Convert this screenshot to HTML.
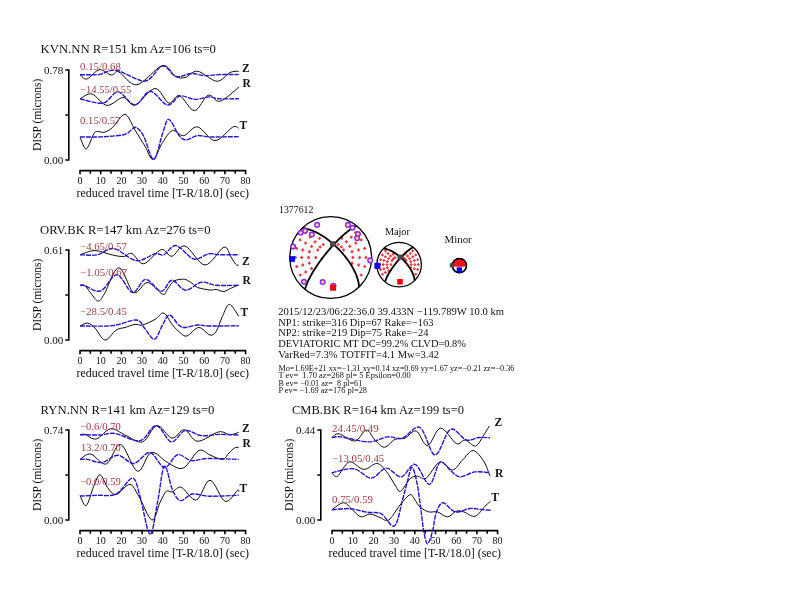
<!DOCTYPE html>
<html><head><meta charset="utf-8"><title>Moment tensor waveform fits</title>
<style>
html,body{margin:0;padding:0;background:#fff;}
body{width:800px;height:600px;overflow:hidden;}
svg{display:block;font-family:'Liberation Serif', serif;}
</style></head><body>
<svg width="800" height="600" viewBox="0 0 800 600">
<rect width="800" height="600" fill="#fff"/>
<g>
<text x="40.50" y="52.70" font-size="11.80" text-anchor="start" fill="#111" font-weight="normal" textLength="175.5" lengthAdjust="spacingAndGlyphs">KVN.NN R=151 km Az=106 ts=0</text>
<path d="M65.30 70.00H68.80V160.00H65.30M65.30 115.00H68.80" fill="none" stroke="#000" stroke-width="1.6"/>
<text x="63.30" y="74.00" font-size="11.10" text-anchor="end" fill="#111" font-weight="normal" textLength="19.4" lengthAdjust="spacingAndGlyphs">0.78</text>
<text x="63.30" y="164.00" font-size="11.10" text-anchor="end" fill="#111" font-weight="normal" textLength="19.4" lengthAdjust="spacingAndGlyphs">0.00</text>
<text transform="translate(40.60 114.80) rotate(-90)" font-size="11.5" text-anchor="middle" fill="#111" textLength="72.5" lengthAdjust="spacingAndGlyphs">DISP (microns)</text>
<path d="M79.40 170.60H246.20M80.00 170.60v3.6M90.35 170.60v3.2M100.70 170.60v3.6M111.05 170.60v3.2M121.40 170.60v3.6M131.75 170.60v3.2M142.10 170.60v3.6M152.45 170.60v3.2M162.80 170.60v3.6M173.15 170.60v3.2M183.50 170.60v3.6M193.85 170.60v3.2M204.20 170.60v3.6M214.55 170.60v3.2M224.90 170.60v3.6M235.25 170.60v3.2M245.60 170.60v3.6" fill="none" stroke="#000" stroke-width="1.6"/>
<text x="80.00" y="183.80" font-size="11.10" text-anchor="middle" fill="#111" font-weight="normal" textLength="5.0" lengthAdjust="spacingAndGlyphs">0</text>
<text x="100.70" y="183.80" font-size="11.10" text-anchor="middle" fill="#111" font-weight="normal" textLength="10.0" lengthAdjust="spacingAndGlyphs">10</text>
<text x="121.40" y="183.80" font-size="11.10" text-anchor="middle" fill="#111" font-weight="normal" textLength="10.0" lengthAdjust="spacingAndGlyphs">20</text>
<text x="142.10" y="183.80" font-size="11.10" text-anchor="middle" fill="#111" font-weight="normal" textLength="10.0" lengthAdjust="spacingAndGlyphs">30</text>
<text x="162.80" y="183.80" font-size="11.10" text-anchor="middle" fill="#111" font-weight="normal" textLength="10.0" lengthAdjust="spacingAndGlyphs">40</text>
<text x="183.50" y="183.80" font-size="11.10" text-anchor="middle" fill="#111" font-weight="normal" textLength="10.0" lengthAdjust="spacingAndGlyphs">50</text>
<text x="204.20" y="183.80" font-size="11.10" text-anchor="middle" fill="#111" font-weight="normal" textLength="10.0" lengthAdjust="spacingAndGlyphs">60</text>
<text x="224.90" y="183.80" font-size="11.10" text-anchor="middle" fill="#111" font-weight="normal" textLength="10.0" lengthAdjust="spacingAndGlyphs">70</text>
<text x="245.60" y="183.80" font-size="11.10" text-anchor="middle" fill="#111" font-weight="normal" textLength="10.0" lengthAdjust="spacingAndGlyphs">80</text>
<text x="76.50" y="196.60" font-size="11.50" text-anchor="start" fill="#111" font-weight="normal" textLength="172.5" lengthAdjust="spacingAndGlyphs">reduced travel time [T-R/18.0] (sec)</text>
<path d="M80.00 74.75C81.15 75.46 83.67 79.83 86.90 79.00C90.13 78.17 95.34 70.42 99.40 69.75C103.46 69.08 108.03 74.64 111.25 75.00C114.47 75.36 114.47 70.28 118.75 71.90C123.03 73.53 129.61 85.80 136.90 84.75C144.19 83.70 156.15 67.02 162.50 65.60C168.85 64.18 171.25 74.27 175.00 76.25C178.75 78.23 181.25 78.33 185.00 77.50C188.75 76.67 192.18 70.62 197.50 71.25C202.82 71.88 211.48 81.04 216.90 81.25C222.32 81.46 226.36 74.17 230.00 72.50C233.64 70.83 237.29 71.46 238.75 71.25" fill="none" stroke="#000" stroke-width="0.95"/>
<path d="M80.00 98.75C81.98 97.96 87.42 92.89 91.90 94.00C96.38 95.11 101.70 104.82 106.90 105.40C112.10 105.98 118.42 97.57 123.10 97.50C127.78 97.43 129.68 106.50 135.00 105.00C140.32 103.50 149.38 88.82 155.00 88.50C160.62 88.18 164.68 101.92 168.75 103.10C172.82 104.28 175.12 94.35 179.40 95.60C183.68 96.85 189.62 110.66 194.40 110.60C199.18 110.54 203.83 96.81 208.10 95.25C212.37 93.69 214.89 102.58 220.00 101.25C225.11 99.92 235.62 89.58 238.75 87.25" fill="none" stroke="#000" stroke-width="0.95"/>
<path d="M80.00 136.90C81.04 138.92 83.96 149.53 86.25 149.00C88.54 148.47 91.88 136.67 93.75 133.75C95.62 130.83 95.72 131.75 97.50 131.50C99.28 131.25 101.90 132.92 104.40 132.25C106.90 131.58 109.07 130.47 112.50 127.50C115.93 124.53 121.25 113.98 125.00 114.40C128.75 114.82 131.67 124.69 135.00 130.00C138.33 135.31 141.98 141.35 145.00 146.25C148.02 151.15 150.18 160.03 153.10 159.40C156.02 158.78 159.27 147.30 162.50 142.50C165.73 137.70 168.96 131.75 172.50 130.60C176.04 129.45 179.58 136.22 183.75 135.60C187.92 134.98 192.29 126.07 197.50 126.90C202.71 127.73 209.17 140.54 215.00 140.60C220.83 140.66 228.54 129.33 232.50 127.25C236.46 125.17 237.71 127.96 238.75 128.10" fill="none" stroke="#000" stroke-width="0.95"/>
<path d="M80.00 74.75C81.67 74.75 86.67 74.81 90.00 74.75C93.33 74.69 95.62 75.15 100.00 74.40C104.38 73.65 108.75 69.15 116.25 70.25C123.75 71.35 137.29 81.71 145.00 81.00C152.71 80.29 157.29 66.75 162.50 66.00C167.71 65.25 171.46 75.25 176.25 76.50C181.04 77.75 186.67 73.65 191.25 73.50C195.83 73.35 198.96 75.42 203.75 75.60C208.54 75.78 214.17 74.77 220.00 74.60C225.83 74.43 235.62 74.60 238.75 74.60" fill="none" stroke="#2414cc" stroke-width="1.4" stroke-dasharray="5 1"/>
<path d="M80.00 98.75C83.85 99.47 96.75 104.24 103.10 103.10C109.45 101.96 112.78 91.58 118.10 91.90C123.42 92.22 129.68 105.11 135.00 105.00C140.32 104.89 144.58 91.25 150.00 91.25C155.42 91.25 162.50 104.21 167.50 105.00C172.50 105.79 175.42 96.93 180.00 96.00C184.58 95.07 190.21 99.25 195.00 99.40C199.79 99.55 204.79 97.01 208.75 96.90C212.71 96.79 213.75 98.44 218.75 98.75C223.75 99.06 235.42 98.75 238.75 98.75" fill="none" stroke="#2414cc" stroke-width="1.4" stroke-dasharray="5 1"/>
<path d="M80.00 136.90C83.33 136.90 92.71 137.26 100.00 136.90C107.29 136.54 118.54 135.90 123.75 134.75C128.96 133.60 129.17 131.21 131.25 130.00C133.33 128.79 134.17 126.46 136.25 127.50C138.33 128.54 140.83 130.93 143.75 136.25C146.67 141.57 150.62 159.82 153.75 159.40C156.88 158.98 160.00 140.42 162.50 133.75C165.00 127.08 166.04 119.19 168.75 119.40C171.46 119.61 175.94 131.57 178.75 135.00C181.56 138.43 182.47 139.90 185.60 140.00C188.72 140.10 193.43 136.12 197.50 135.60C201.57 135.08 203.12 136.73 210.00 136.90C216.88 137.07 233.96 136.65 238.75 136.60" fill="none" stroke="#2414cc" stroke-width="1.4" stroke-dasharray="5 1"/>
<text x="80.10" y="69.60" font-size="9.30" text-anchor="start" fill="#9c3a40" font-weight="normal" textLength="40.8" lengthAdjust="spacingAndGlyphs">0.15/0.68</text>
<text x="80.10" y="92.70" font-size="9.30" text-anchor="start" fill="#9c3a40" font-weight="normal" textLength="51.2" lengthAdjust="spacingAndGlyphs">−14.55/0.55</text>
<text x="80.10" y="124.40" font-size="9.30" text-anchor="start" fill="#9c3a40" font-weight="normal" textLength="40.3" lengthAdjust="spacingAndGlyphs">0.15/0.57</text>
<text x="242.00" y="72.00" font-size="11.50" text-anchor="start" fill="#111" font-weight="bold">Z</text>
<text x="242.50" y="86.50" font-size="11.50" text-anchor="start" fill="#111" font-weight="bold">R</text>
<text x="239.50" y="128.70" font-size="11.50" text-anchor="start" fill="#111" font-weight="bold">T</text>
</g>
<g>
<text x="40.00" y="234.40" font-size="11.80" text-anchor="start" fill="#111" font-weight="normal" textLength="170.5" lengthAdjust="spacingAndGlyphs">ORV.BK R=147 km Az=276 ts=0</text>
<path d="M65.30 250.00H68.80V340.00H65.30M65.30 295.00H68.80" fill="none" stroke="#000" stroke-width="1.6"/>
<text x="63.30" y="254.00" font-size="11.10" text-anchor="end" fill="#111" font-weight="normal" textLength="19.4" lengthAdjust="spacingAndGlyphs">0.61</text>
<text x="63.30" y="344.00" font-size="11.10" text-anchor="end" fill="#111" font-weight="normal" textLength="19.4" lengthAdjust="spacingAndGlyphs">0.00</text>
<text transform="translate(40.60 294.80) rotate(-90)" font-size="11.5" text-anchor="middle" fill="#111" textLength="72.5" lengthAdjust="spacingAndGlyphs">DISP (microns)</text>
<path d="M79.40 350.60H246.20M80.00 350.60v3.6M90.35 350.60v3.2M100.70 350.60v3.6M111.05 350.60v3.2M121.40 350.60v3.6M131.75 350.60v3.2M142.10 350.60v3.6M152.45 350.60v3.2M162.80 350.60v3.6M173.15 350.60v3.2M183.50 350.60v3.6M193.85 350.60v3.2M204.20 350.60v3.6M214.55 350.60v3.2M224.90 350.60v3.6M235.25 350.60v3.2M245.60 350.60v3.6" fill="none" stroke="#000" stroke-width="1.6"/>
<text x="80.00" y="363.80" font-size="11.10" text-anchor="middle" fill="#111" font-weight="normal" textLength="5.0" lengthAdjust="spacingAndGlyphs">0</text>
<text x="100.70" y="363.80" font-size="11.10" text-anchor="middle" fill="#111" font-weight="normal" textLength="10.0" lengthAdjust="spacingAndGlyphs">10</text>
<text x="121.40" y="363.80" font-size="11.10" text-anchor="middle" fill="#111" font-weight="normal" textLength="10.0" lengthAdjust="spacingAndGlyphs">20</text>
<text x="142.10" y="363.80" font-size="11.10" text-anchor="middle" fill="#111" font-weight="normal" textLength="10.0" lengthAdjust="spacingAndGlyphs">30</text>
<text x="162.80" y="363.80" font-size="11.10" text-anchor="middle" fill="#111" font-weight="normal" textLength="10.0" lengthAdjust="spacingAndGlyphs">40</text>
<text x="183.50" y="363.80" font-size="11.10" text-anchor="middle" fill="#111" font-weight="normal" textLength="10.0" lengthAdjust="spacingAndGlyphs">50</text>
<text x="204.20" y="363.80" font-size="11.10" text-anchor="middle" fill="#111" font-weight="normal" textLength="10.0" lengthAdjust="spacingAndGlyphs">60</text>
<text x="224.90" y="363.80" font-size="11.10" text-anchor="middle" fill="#111" font-weight="normal" textLength="10.0" lengthAdjust="spacingAndGlyphs">70</text>
<text x="245.60" y="363.80" font-size="11.10" text-anchor="middle" fill="#111" font-weight="normal" textLength="10.0" lengthAdjust="spacingAndGlyphs">80</text>
<text x="76.50" y="376.60" font-size="11.50" text-anchor="start" fill="#111" font-weight="normal" textLength="172.5" lengthAdjust="spacingAndGlyphs">reduced travel time [T-R/18.0] (sec)</text>
<path d="M80.00 254.75C82.50 254.06 89.58 250.56 95.00 250.60C100.42 250.64 107.71 254.02 112.50 255.00C117.29 255.98 120.52 256.75 123.75 256.50C126.98 256.25 128.57 252.29 131.90 253.50C135.23 254.71 138.86 264.40 143.75 263.75C148.64 263.10 156.56 250.85 161.25 249.60C165.94 248.35 167.94 256.85 171.90 256.25C175.86 255.65 179.48 244.54 185.00 246.00C190.52 247.46 198.54 264.79 205.00 265.00C211.46 265.21 219.42 248.58 223.75 247.25C228.08 245.92 229.04 254.21 231.00 257.00C232.96 259.79 234.21 262.60 235.50 264.00C236.79 265.40 238.21 265.17 238.75 265.40" fill="none" stroke="#000" stroke-width="0.95"/>
<path d="M80.00 285.60C80.83 285.63 83.12 284.44 85.00 285.80C86.88 287.16 89.07 291.22 91.25 293.75C93.43 296.28 95.91 301.00 98.10 301.00C100.29 301.00 100.96 299.29 104.40 293.75C107.84 288.21 113.86 267.96 118.75 267.75C123.64 267.54 128.96 290.04 133.75 292.50C138.54 294.96 142.71 282.22 147.50 282.50C152.29 282.78 159.25 292.95 162.50 294.20C165.75 295.45 165.42 291.92 167.00 290.00C168.58 288.08 170.50 284.33 172.00 282.70C173.50 281.07 174.50 280.77 176.00 280.20C177.50 279.63 179.33 279.38 181.00 279.30C182.67 279.22 184.17 279.05 186.00 279.70C187.83 280.35 190.08 281.90 192.00 283.20C193.92 284.50 194.50 286.37 197.50 287.50C200.50 288.63 206.88 289.68 210.00 290.00C213.12 290.32 213.96 289.15 216.25 289.40C218.54 289.65 221.25 291.72 223.75 291.50C226.25 291.28 228.75 289.18 231.25 288.10C233.75 287.02 237.50 285.52 238.75 285.00" fill="none" stroke="#000" stroke-width="0.95"/>
<path d="M80.00 326.00C81.25 325.52 85.00 322.75 87.50 323.10C90.00 323.45 92.08 325.28 95.00 328.10C97.92 330.92 101.46 339.68 105.00 340.00C108.54 340.32 112.92 332.08 116.25 330.00C119.58 327.92 121.88 328.43 125.00 327.50C128.12 326.57 132.08 324.82 135.00 324.40C137.92 323.98 139.17 325.83 142.50 325.00C145.83 324.17 151.46 321.38 155.00 319.40C158.54 317.42 160.83 312.17 163.75 313.10C166.67 314.03 169.79 321.77 172.50 325.00C175.21 328.23 177.60 330.67 180.00 332.50C182.40 334.33 183.78 336.83 186.90 336.00C190.03 335.17 194.90 327.67 198.75 327.50C202.60 327.33 207.08 334.38 210.00 335.00C212.92 335.62 214.17 334.38 216.25 331.25C218.33 328.12 220.31 320.73 222.50 316.25C224.69 311.77 226.69 304.40 229.40 304.40C232.11 304.40 237.19 314.27 238.75 316.25" fill="none" stroke="#000" stroke-width="0.95"/>
<path d="M80.00 254.75C82.92 254.75 91.88 255.79 97.50 254.75C103.12 253.71 107.29 247.53 113.75 248.50C120.21 249.47 129.38 259.73 136.25 260.60C143.12 261.48 150.42 254.72 155.00 253.75C159.58 252.78 160.21 256.16 163.75 254.80C167.29 253.44 171.25 244.90 176.25 245.60C181.25 246.30 188.33 257.64 193.75 259.00C199.17 260.36 204.38 254.46 208.75 253.75C213.12 253.04 215.00 254.58 220.00 254.75C225.00 254.92 235.62 254.75 238.75 254.75" fill="none" stroke="#2414cc" stroke-width="1.4" stroke-dasharray="5 1"/>
<path d="M80.00 285.60C80.62 285.55 80.32 284.40 83.75 285.30C87.18 286.20 95.07 292.76 100.60 291.00C106.12 289.24 111.58 274.50 116.90 274.75C122.22 275.00 127.72 291.73 132.50 292.50C137.28 293.27 140.81 279.61 145.60 279.40C150.39 279.19 156.87 291.11 161.25 291.25C165.63 291.39 167.84 280.42 171.90 280.25C175.96 280.08 180.71 289.92 185.60 290.25C190.49 290.58 196.14 283.08 201.25 282.25C206.36 281.42 210.00 284.75 216.25 285.25C222.50 285.75 235.00 285.25 238.75 285.25" fill="none" stroke="#2414cc" stroke-width="1.4" stroke-dasharray="5 1"/>
<path d="M80.00 326.00C85.42 325.93 103.12 326.60 112.50 325.60C121.88 324.60 130.83 319.48 136.25 320.00C141.67 320.52 141.97 325.52 145.00 328.75C148.03 331.98 151.48 340.02 154.40 339.40C157.32 338.77 160.00 329.07 162.50 325.00C165.00 320.93 166.69 315.00 169.40 315.00C172.11 315.00 176.15 322.92 178.75 325.00C181.35 327.08 181.88 327.50 185.00 327.50C188.12 327.50 193.33 325.25 197.50 325.00C201.67 324.75 203.12 325.88 210.00 326.00C216.88 326.12 233.96 325.79 238.75 325.75" fill="none" stroke="#2414cc" stroke-width="1.4" stroke-dasharray="5 1"/>
<text x="80.10" y="249.60" font-size="9.30" text-anchor="start" fill="#9c3a40" font-weight="normal" textLength="46.7" lengthAdjust="spacingAndGlyphs">−4.65/0.57</text>
<text x="80.10" y="275.90" font-size="9.30" text-anchor="start" fill="#9c3a40" font-weight="normal" textLength="47.0" lengthAdjust="spacingAndGlyphs">−1.05/0.67</text>
<text x="80.10" y="314.65" font-size="9.30" text-anchor="start" fill="#9c3a40" font-weight="normal" textLength="46.8" lengthAdjust="spacingAndGlyphs">−28.5/0.45</text>
<text x="242.00" y="264.70" font-size="11.50" text-anchor="start" fill="#111" font-weight="bold">Z</text>
<text x="242.50" y="284.40" font-size="11.50" text-anchor="start" fill="#111" font-weight="bold">R</text>
<text x="240.60" y="316.20" font-size="11.50" text-anchor="start" fill="#111" font-weight="bold">T</text>
</g>
<g>
<text x="40.50" y="413.70" font-size="11.80" text-anchor="start" fill="#111" font-weight="normal" textLength="174.0" lengthAdjust="spacingAndGlyphs">RYN.NN R=141 km Az=129 ts=0</text>
<path d="M65.30 430.00H68.80V520.00H65.30M65.30 475.00H68.80" fill="none" stroke="#000" stroke-width="1.6"/>
<text x="63.30" y="434.00" font-size="11.10" text-anchor="end" fill="#111" font-weight="normal" textLength="19.4" lengthAdjust="spacingAndGlyphs">0.74</text>
<text x="63.30" y="524.00" font-size="11.10" text-anchor="end" fill="#111" font-weight="normal" textLength="19.4" lengthAdjust="spacingAndGlyphs">0.00</text>
<text transform="translate(40.60 474.80) rotate(-90)" font-size="11.5" text-anchor="middle" fill="#111" textLength="72.5" lengthAdjust="spacingAndGlyphs">DISP (microns)</text>
<path d="M79.40 530.60H246.20M80.00 530.60v3.6M90.35 530.60v3.2M100.70 530.60v3.6M111.05 530.60v3.2M121.40 530.60v3.6M131.75 530.60v3.2M142.10 530.60v3.6M152.45 530.60v3.2M162.80 530.60v3.6M173.15 530.60v3.2M183.50 530.60v3.6M193.85 530.60v3.2M204.20 530.60v3.6M214.55 530.60v3.2M224.90 530.60v3.6M235.25 530.60v3.2M245.60 530.60v3.6" fill="none" stroke="#000" stroke-width="1.6"/>
<text x="80.00" y="543.80" font-size="11.10" text-anchor="middle" fill="#111" font-weight="normal" textLength="5.0" lengthAdjust="spacingAndGlyphs">0</text>
<text x="100.70" y="543.80" font-size="11.10" text-anchor="middle" fill="#111" font-weight="normal" textLength="10.0" lengthAdjust="spacingAndGlyphs">10</text>
<text x="121.40" y="543.80" font-size="11.10" text-anchor="middle" fill="#111" font-weight="normal" textLength="10.0" lengthAdjust="spacingAndGlyphs">20</text>
<text x="142.10" y="543.80" font-size="11.10" text-anchor="middle" fill="#111" font-weight="normal" textLength="10.0" lengthAdjust="spacingAndGlyphs">30</text>
<text x="162.80" y="543.80" font-size="11.10" text-anchor="middle" fill="#111" font-weight="normal" textLength="10.0" lengthAdjust="spacingAndGlyphs">40</text>
<text x="183.50" y="543.80" font-size="11.10" text-anchor="middle" fill="#111" font-weight="normal" textLength="10.0" lengthAdjust="spacingAndGlyphs">50</text>
<text x="204.20" y="543.80" font-size="11.10" text-anchor="middle" fill="#111" font-weight="normal" textLength="10.0" lengthAdjust="spacingAndGlyphs">60</text>
<text x="224.90" y="543.80" font-size="11.10" text-anchor="middle" fill="#111" font-weight="normal" textLength="10.0" lengthAdjust="spacingAndGlyphs">70</text>
<text x="245.60" y="543.80" font-size="11.10" text-anchor="middle" fill="#111" font-weight="normal" textLength="10.0" lengthAdjust="spacingAndGlyphs">80</text>
<text x="76.50" y="556.60" font-size="11.50" text-anchor="start" fill="#111" font-weight="normal" textLength="172.5" lengthAdjust="spacingAndGlyphs">reduced travel time [T-R/18.0] (sec)</text>
<path d="M80.00 434.75C80.83 434.69 82.29 433.69 85.00 434.40C87.71 435.11 91.98 439.94 96.25 439.00C100.52 438.06 105.81 429.42 110.60 428.75C115.39 428.08 119.68 432.81 125.00 435.00C130.32 437.19 137.18 443.47 142.50 441.90C147.82 440.33 152.00 426.23 156.90 425.60C161.80 424.97 167.32 437.41 171.90 438.10C176.48 438.79 180.13 429.23 184.40 429.75C188.67 430.27 191.78 440.89 197.50 441.25C203.22 441.61 213.33 432.98 218.75 431.90C224.17 430.82 226.67 434.69 230.00 434.75C233.33 434.81 237.29 432.67 238.75 432.25" fill="none" stroke="#000" stroke-width="0.95"/>
<path d="M80.00 459.40C81.77 458.50 86.22 453.23 90.60 454.00C94.97 454.77 101.25 465.60 106.25 464.00C111.25 462.40 115.39 443.19 120.60 444.40C125.81 445.61 132.39 469.90 137.50 471.25C142.61 472.60 146.25 453.96 151.25 452.50C156.25 451.04 162.19 459.90 167.50 462.50C172.81 465.10 177.89 470.08 183.10 468.10C188.31 466.12 194.27 452.78 198.75 450.60C203.23 448.42 206.04 453.53 210.00 455.00C213.96 456.47 219.33 459.73 222.50 459.40C225.67 459.07 227.00 454.90 229.00 453.00C231.00 451.10 232.88 448.96 234.50 448.00C236.12 447.04 238.04 447.38 238.75 447.25" fill="none" stroke="#000" stroke-width="0.95"/>
<path d="M80.00 495.60C81.04 497.27 83.96 507.16 86.25 505.60C88.54 504.04 91.46 491.39 93.75 486.25C96.04 481.11 97.71 474.54 100.00 474.75C102.29 474.96 105.21 484.29 107.50 487.50C109.79 490.71 111.88 493.07 113.75 494.00C115.62 494.93 116.04 494.70 118.75 493.10C121.46 491.50 126.67 483.88 130.00 484.40C133.33 484.92 135.10 490.32 138.75 496.25C142.40 502.18 148.36 518.96 151.90 520.00C155.44 521.04 157.61 507.29 160.00 502.50C162.39 497.71 164.17 493.02 166.25 491.25C168.33 489.48 170.00 492.57 172.50 491.90C175.00 491.23 177.29 485.90 181.25 487.25C185.21 488.60 191.46 501.17 196.25 500.00C201.04 498.83 205.21 480.04 210.00 480.25C214.79 480.46 220.42 499.52 225.00 501.25C229.58 502.98 235.21 492.23 237.50 490.60C239.79 488.98 238.54 491.35 238.75 491.50" fill="none" stroke="#000" stroke-width="0.95"/>
<path d="M80.00 434.75C83.33 434.79 94.17 435.21 100.00 435.00C105.83 434.79 108.33 432.57 115.00 433.50C121.67 434.43 133.12 441.92 140.00 440.60C146.88 439.28 151.04 425.38 156.25 425.60C161.46 425.82 166.46 441.07 171.25 441.90C176.04 442.73 180.00 431.65 185.00 430.60C190.00 429.55 195.62 434.97 201.25 435.60C206.88 436.23 212.50 434.50 218.75 434.40C225.00 434.30 235.42 434.90 238.75 435.00" fill="none" stroke="#2414cc" stroke-width="1.4" stroke-dasharray="5 1"/>
<path d="M80.00 459.40C81.25 459.40 83.85 458.88 87.50 459.40C91.15 459.92 96.80 463.19 101.90 462.50C107.00 461.81 112.79 455.08 118.10 455.25C123.41 455.42 128.43 463.96 133.75 463.50C139.07 463.04 144.89 451.83 150.00 452.50C155.11 453.17 159.82 467.12 164.40 467.50C168.98 467.88 173.03 455.90 177.50 454.75C181.97 453.60 186.25 459.98 191.25 460.60C196.25 461.23 199.58 458.70 207.50 458.50C215.42 458.30 233.54 459.25 238.75 459.40" fill="none" stroke="#2414cc" stroke-width="1.4" stroke-dasharray="5 1"/>
<path d="M80.00 496.00C83.00 495.88 91.96 495.63 98.00 495.30C104.04 494.97 110.50 496.87 116.25 494.00C122.00 491.13 128.54 477.73 132.50 478.10C136.46 478.48 137.08 486.87 140.00 496.25C142.92 505.63 147.08 533.36 150.00 534.40C152.92 535.44 155.10 513.86 157.50 502.50C159.90 491.14 161.90 468.33 164.40 466.25C166.90 464.17 169.80 484.27 172.50 490.00C175.20 495.73 177.27 499.93 180.60 500.60C183.93 501.27 187.60 494.73 192.50 494.00C197.40 493.27 202.29 496.04 210.00 496.25C217.71 496.46 233.96 495.42 238.75 495.25" fill="none" stroke="#2414cc" stroke-width="1.4" stroke-dasharray="5 1"/>
<text x="80.10" y="430.40" font-size="9.30" text-anchor="start" fill="#9c3a40" font-weight="normal" textLength="40.7" lengthAdjust="spacingAndGlyphs">−0.6/0.70</text>
<text x="81.00" y="451.40" font-size="9.30" text-anchor="start" fill="#9c3a40" font-weight="normal" textLength="39.8" lengthAdjust="spacingAndGlyphs">13.2/0.70</text>
<text x="80.10" y="484.65" font-size="9.30" text-anchor="start" fill="#9c3a40" font-weight="normal" textLength="40.7" lengthAdjust="spacingAndGlyphs">−0.0/0.59</text>
<text x="242.00" y="432.20" font-size="11.50" text-anchor="start" fill="#111" font-weight="bold">Z</text>
<text x="242.50" y="447.20" font-size="11.50" text-anchor="start" fill="#111" font-weight="bold">R</text>
<text x="239.50" y="491.50" font-size="11.50" text-anchor="start" fill="#111" font-weight="bold">T</text>
</g>
<g>
<text x="292.00" y="414.40" font-size="11.80" text-anchor="start" fill="#111" font-weight="normal" textLength="172.0" lengthAdjust="spacingAndGlyphs">CMB.BK R=164 km Az=199 ts=0</text>
<path d="M317.30 430.00H320.80V520.00H317.30M317.30 475.00H320.80" fill="none" stroke="#000" stroke-width="1.6"/>
<text x="315.30" y="434.00" font-size="11.10" text-anchor="end" fill="#111" font-weight="normal" textLength="19.4" lengthAdjust="spacingAndGlyphs">0.44</text>
<text x="315.30" y="524.00" font-size="11.10" text-anchor="end" fill="#111" font-weight="normal" textLength="19.4" lengthAdjust="spacingAndGlyphs">0.00</text>
<text transform="translate(292.60 474.80) rotate(-90)" font-size="11.5" text-anchor="middle" fill="#111" textLength="72.5" lengthAdjust="spacingAndGlyphs">DISP (microns)</text>
<path d="M331.40 530.60H498.20M332.00 530.60v3.6M342.35 530.60v3.2M352.70 530.60v3.6M363.05 530.60v3.2M373.40 530.60v3.6M383.75 530.60v3.2M394.10 530.60v3.6M404.45 530.60v3.2M414.80 530.60v3.6M425.15 530.60v3.2M435.50 530.60v3.6M445.85 530.60v3.2M456.20 530.60v3.6M466.55 530.60v3.2M476.90 530.60v3.6M487.25 530.60v3.2M497.60 530.60v3.6" fill="none" stroke="#000" stroke-width="1.6"/>
<text x="332.00" y="543.80" font-size="11.10" text-anchor="middle" fill="#111" font-weight="normal" textLength="5.0" lengthAdjust="spacingAndGlyphs">0</text>
<text x="352.70" y="543.80" font-size="11.10" text-anchor="middle" fill="#111" font-weight="normal" textLength="10.0" lengthAdjust="spacingAndGlyphs">10</text>
<text x="373.40" y="543.80" font-size="11.10" text-anchor="middle" fill="#111" font-weight="normal" textLength="10.0" lengthAdjust="spacingAndGlyphs">20</text>
<text x="394.10" y="543.80" font-size="11.10" text-anchor="middle" fill="#111" font-weight="normal" textLength="10.0" lengthAdjust="spacingAndGlyphs">30</text>
<text x="414.80" y="543.80" font-size="11.10" text-anchor="middle" fill="#111" font-weight="normal" textLength="10.0" lengthAdjust="spacingAndGlyphs">40</text>
<text x="435.50" y="543.80" font-size="11.10" text-anchor="middle" fill="#111" font-weight="normal" textLength="10.0" lengthAdjust="spacingAndGlyphs">50</text>
<text x="456.20" y="543.80" font-size="11.10" text-anchor="middle" fill="#111" font-weight="normal" textLength="10.0" lengthAdjust="spacingAndGlyphs">60</text>
<text x="476.90" y="543.80" font-size="11.10" text-anchor="middle" fill="#111" font-weight="normal" textLength="10.0" lengthAdjust="spacingAndGlyphs">70</text>
<text x="497.60" y="543.80" font-size="11.10" text-anchor="middle" fill="#111" font-weight="normal" textLength="10.0" lengthAdjust="spacingAndGlyphs">80</text>
<text x="328.50" y="556.60" font-size="11.50" text-anchor="start" fill="#111" font-weight="normal" textLength="172.5" lengthAdjust="spacingAndGlyphs">reduced travel time [T-R/18.0] (sec)</text>
<path d="M331.90 437.75C333.04 437.08 334.90 433.21 338.75 433.75C342.60 434.29 350.42 441.62 355.00 441.00C359.58 440.38 362.92 430.17 366.25 430.00C369.58 429.83 371.98 437.12 375.00 440.00C378.02 442.88 381.07 447.35 384.40 447.25C387.73 447.15 391.57 440.92 395.00 439.40C398.43 437.88 401.46 439.50 405.00 438.10C408.54 436.70 412.50 429.75 416.25 431.00C420.00 432.25 423.44 446.08 427.50 445.60C431.56 445.12 435.81 428.45 440.60 428.10C445.39 427.75 452.18 441.52 456.25 443.50C460.32 445.48 461.77 439.58 465.00 440.00C468.23 440.42 472.48 446.83 475.60 446.00C478.73 445.17 481.45 438.33 483.75 435.00C486.05 431.67 488.46 427.50 489.40 426.00" fill="none" stroke="#000" stroke-width="0.95"/>
<path d="M331.90 472.75C332.83 473.33 334.58 478.06 337.50 476.25C340.42 474.44 345.02 463.04 349.40 461.90C353.77 460.76 359.17 469.13 363.75 469.40C368.33 469.67 373.15 463.19 376.90 463.50C380.65 463.81 383.23 467.67 386.25 471.25C389.27 474.83 392.61 481.67 395.00 485.00C397.39 488.33 398.10 492.29 400.60 491.25C403.10 490.21 407.18 481.25 410.00 478.75C412.82 476.25 414.79 476.36 417.50 476.25C420.21 476.14 422.50 480.49 426.25 478.10C430.00 475.71 435.62 463.25 440.00 461.90C444.38 460.55 448.75 470.32 452.50 470.00C456.25 469.68 459.07 463.23 462.50 460.00C465.93 456.77 469.56 450.39 473.10 450.60C476.64 450.81 480.93 456.98 483.75 461.25C486.57 465.52 488.96 473.75 490.00 476.25" fill="none" stroke="#000" stroke-width="0.95"/>
<path d="M331.90 509.75C333.88 508.58 340.11 502.50 343.75 502.75C347.39 503.00 350.83 508.89 353.75 511.25C356.67 513.61 358.54 516.44 361.25 516.90C363.96 517.36 366.88 513.90 370.00 514.00C373.12 514.10 376.88 516.50 380.00 517.50C383.12 518.50 385.42 522.08 388.75 520.00C392.08 517.92 396.46 509.21 400.00 505.00C403.54 500.79 407.50 495.58 410.00 494.75C412.50 493.92 413.33 497.96 415.00 500.00C416.67 502.04 417.71 505.02 420.00 507.00C422.29 508.98 425.83 511.08 428.75 511.90C431.67 512.72 434.38 511.07 437.50 511.90C440.62 512.73 444.38 517.01 447.50 516.90C450.62 516.79 453.54 512.08 456.25 511.25C458.96 510.42 460.62 511.07 463.75 511.90C466.88 512.73 471.46 517.19 475.00 516.25C478.54 515.31 482.40 508.75 485.00 506.25C487.60 503.75 489.67 502.08 490.60 501.25" fill="none" stroke="#000" stroke-width="0.95"/>
<path d="M331.90 437.75C333.46 437.61 335.11 436.21 341.25 436.90C347.39 437.59 361.04 441.90 368.75 441.90C376.46 441.90 381.88 437.53 387.50 436.90C393.12 436.27 397.08 439.67 402.50 438.10C407.92 436.53 414.58 424.68 420.00 427.50C425.42 430.32 429.93 454.68 435.00 455.00C440.07 455.32 445.19 431.90 450.40 429.40C455.61 426.90 461.52 438.65 466.25 440.00C470.98 441.35 474.79 437.88 478.75 437.50C482.71 437.12 488.12 437.71 490.00 437.75" fill="none" stroke="#2414cc" stroke-width="1.4" stroke-dasharray="5 1"/>
<path d="M331.90 472.75C335.54 472.08 347.19 467.86 353.75 468.75C360.31 469.64 365.83 478.21 371.25 478.10C376.67 477.99 381.25 468.30 386.25 468.10C391.25 467.90 396.46 477.52 401.25 476.90C406.04 476.28 410.31 463.15 415.00 464.40C419.69 465.65 425.23 484.72 429.40 484.40C433.57 484.08 436.36 464.69 440.00 462.50C443.64 460.31 447.92 468.85 451.25 471.25C454.58 473.65 456.04 476.79 460.00 476.90C463.96 477.01 470.00 472.59 475.00 471.90C480.00 471.21 487.50 472.61 490.00 472.75" fill="none" stroke="#2414cc" stroke-width="1.4" stroke-dasharray="5 1"/>
<path d="M331.90 509.75C334.92 509.58 344.07 508.33 350.00 508.75C355.93 509.17 362.29 511.42 367.50 512.25C372.71 513.08 376.77 511.46 381.25 513.75C385.73 516.04 390.86 528.29 394.40 526.00C397.94 523.71 400.32 507.46 402.50 500.00C404.68 492.54 405.92 486.67 407.50 481.25C409.08 475.83 410.42 467.21 412.00 467.50C413.58 467.79 415.46 475.50 417.00 483.00C418.54 490.50 420.12 504.46 421.25 512.50C422.38 520.54 422.71 526.04 423.75 531.25C424.79 536.46 426.04 543.75 427.50 543.75C428.96 543.75 431.04 536.46 432.50 531.25C433.96 526.04 434.48 517.25 436.25 512.50C438.02 507.75 439.98 502.85 443.10 502.75C446.23 502.65 450.52 510.94 455.00 511.90C459.48 512.86 465.83 508.92 470.00 508.50C474.17 508.08 476.57 509.11 480.00 509.40C483.43 509.69 488.83 510.11 490.60 510.25" fill="none" stroke="#2414cc" stroke-width="1.4" stroke-dasharray="5 1"/>
<text x="332.10" y="431.50" font-size="9.30" text-anchor="start" fill="#9c3a40" font-weight="normal" textLength="46.7" lengthAdjust="spacingAndGlyphs">24.45/0.49</text>
<text x="332.00" y="461.50" font-size="9.30" text-anchor="start" fill="#9c3a40" font-weight="normal" textLength="52.2" lengthAdjust="spacingAndGlyphs">−13.05/0.45</text>
<text x="332.00" y="502.50" font-size="9.30" text-anchor="start" fill="#9c3a40" font-weight="normal" textLength="41.0" lengthAdjust="spacingAndGlyphs">0.75/0.59</text>
<text x="494.40" y="425.60" font-size="11.50" text-anchor="start" fill="#111" font-weight="bold">Z</text>
<text x="495.00" y="476.50" font-size="11.50" text-anchor="start" fill="#111" font-weight="bold">R</text>
<text x="491.30" y="500.60" font-size="11.50" text-anchor="start" fill="#111" font-weight="bold">T</text>
</g>
<circle cx="330.70" cy="257.50" r="40.90" fill="#fff" stroke="#000" stroke-width="1.30"/>
<path d="M337.29 244.54h1.80M338.19 243.64v1.80M340.39 246.91h1.80M341.29 246.01v1.80M342.76 250.01h1.80M343.66 249.11v1.80M314.83 257.50h1.80M315.73 256.60v1.80M316.84 250.01h1.80M317.74 249.11v1.80M319.21 246.91h1.80M320.11 246.01v1.80M322.31 244.54h1.80M323.21 243.64v1.80M340.87 238.33h1.80M341.77 237.43v1.80M345.45 241.85h1.80M346.35 240.95v1.80M348.97 246.43h1.80M349.87 245.53v1.80M351.18 251.77h1.80M352.08 250.87v1.80M351.93 257.50h1.80M352.83 256.60v1.80M351.18 263.23h1.80M352.08 262.33v1.80M310.63 268.57h1.80M311.53 267.67v1.80M308.42 263.23h1.80M309.32 262.33v1.80M307.67 257.50h1.80M308.57 256.60v1.80M308.42 251.77h1.80M309.32 250.87v1.80M310.63 246.43h1.80M311.53 245.53v1.80M314.15 241.85h1.80M315.05 240.95v1.80M318.73 238.33h1.80M319.63 237.43v1.80M350.25 237.05h1.80M351.15 236.15v1.80M354.85 243.04h1.80M355.75 242.14v1.80M357.74 250.01h1.80M358.64 249.11v1.80M358.72 257.50h1.80M359.62 256.60v1.80M357.74 264.99h1.80M358.64 264.09v1.80M304.75 271.96h1.80M305.65 271.06v1.80M301.86 264.99h1.80M302.76 264.09v1.80M300.88 257.50h1.80M301.78 256.60v1.80M301.86 250.01h1.80M302.76 249.11v1.80M304.75 243.04h1.80M305.65 242.14v1.80M309.35 237.05h1.80M310.25 236.15v1.80M354.70 232.60h1.80M355.60 231.70v1.80M360.29 239.89h1.80M361.19 238.99v1.80M363.81 248.39h1.80M364.71 247.49v1.80M365.01 257.50h1.80M365.91 256.60v1.80M363.81 266.61h1.80M364.71 265.71v1.80M360.29 275.11h1.80M361.19 274.21v1.80M299.31 275.11h1.80M300.21 274.21v1.80M295.79 266.61h1.80M296.69 265.71v1.80M294.59 257.50h1.80M295.49 256.60v1.80M295.79 248.39h1.80M296.69 247.49v1.80M299.31 239.89h1.80M300.21 238.99v1.80M304.90 232.60h1.80M305.80 231.70v1.80" stroke="#e63a40" stroke-width="1.50" stroke-linecap="round" fill="none"/>
<path d="M302.29 228.08L303.57 228.23L304.86 228.45L306.15 228.71L307.43 229.02L308.71 229.38L309.99 229.78L311.27 230.23L312.55 230.72L313.82 231.25L315.09 231.82L316.36 232.43L317.63 233.07L318.89 233.75L320.14 234.46L321.39 235.20L322.63 235.97L323.87 236.78L325.10 237.61L326.32 238.47L327.53 239.36L328.73 240.27L329.92 241.21L331.10 242.17L332.27 243.15L333.43 244.16L334.57 245.19L335.70 246.23L336.81 247.30L337.91 248.39L339.00 249.49L340.06 250.61L341.11 251.74L342.13 252.90L343.14 254.06L344.13 255.24L345.09 256.43L346.04 257.63L346.96 258.85L347.85 260.07L348.72 261.30L349.57 262.54L350.38 263.79L351.17 265.05L351.93 266.31L352.66 267.58L353.36 268.86L354.03 270.13L354.66 271.42L355.26 272.70L355.82 273.99L356.34 275.28L356.83 276.57L357.27 277.87L357.68 279.16L358.04 280.46L358.35 281.75L358.62 283.04L358.84 284.34L359.00 285.63L359.11 286.92" fill="none" stroke="#000" stroke-width="1.82"/>
<path d="M304.96 289.29L305.28 288.18L305.64 287.06L306.04 285.94L306.46 284.81L306.92 283.66L307.41 282.51L307.93 281.35L308.48 280.18L309.05 279.00L309.65 277.81L310.28 276.62L310.93 275.43L311.61 274.22L312.30 273.01L313.02 271.80L313.76 270.59L314.52 269.37L315.30 268.15L316.10 266.92L316.91 265.70L317.74 264.48L318.59 263.26L319.46 262.04L320.34 260.82L321.23 259.60L322.14 258.39L323.06 257.18L323.99 255.98L324.93 254.79L325.88 253.60L326.85 252.42L327.82 251.25L328.80 250.09L329.79 248.94L330.79 247.80L331.79 246.67L332.80 245.56L333.81 244.46L334.83 243.38L335.86 242.31L336.88 241.26L337.91 240.22L338.94 239.21L339.98 238.21L341.01 237.23L342.05 236.28L343.09 235.35L344.12 234.44L345.16 233.55L346.20 232.69L347.23 231.86L348.26 231.05L349.29 230.27L350.32 229.52L351.35 228.80L352.37 228.12L353.39 227.46L354.41 226.84L355.43 226.26L356.44 225.71" fill="none" stroke="#000" stroke-width="1.82"/>
<circle cx="317.10" cy="224.90" r="2.3" fill="#f9cfae" stroke="#8c2cd8" stroke-width="1.5"/>
<circle cx="305.00" cy="230.75" r="2.3" fill="#f9cfae" stroke="#8c2cd8" stroke-width="1.5"/>
<circle cx="300.70" cy="232.80" r="2.3" fill="#f9cfae" stroke="#8c2cd8" stroke-width="1.5"/>
<circle cx="311.80" cy="234.50" r="2.3" fill="#f9cfae" stroke="#8c2cd8" stroke-width="1.5"/>
<circle cx="293.10" cy="246.60" r="2.3" fill="#f9cfae" stroke="#8c2cd8" stroke-width="1.5"/>
<circle cx="347.90" cy="224.90" r="2.3" fill="#f9cfae" stroke="#8c2cd8" stroke-width="1.5"/>
<circle cx="352.50" cy="227.80" r="2.3" fill="#f9cfae" stroke="#8c2cd8" stroke-width="1.5"/>
<circle cx="357.90" cy="234.10" r="2.3" fill="#f9cfae" stroke="#8c2cd8" stroke-width="1.5"/>
<circle cx="357.10" cy="238.25" r="2.3" fill="#f9cfae" stroke="#8c2cd8" stroke-width="1.5"/>
<circle cx="370.20" cy="260.40" r="2.3" fill="#f9cfae" stroke="#8c2cd8" stroke-width="1.5"/>
<circle cx="304.00" cy="281.80" r="2.3" fill="#f9cfae" stroke="#8c2cd8" stroke-width="1.5"/>
<circle cx="322.70" cy="282.10" r="2.3" fill="#f9cfae" stroke="#8c2cd8" stroke-width="1.5"/>
<circle cx="333.40" cy="285.80" r="2.3" fill="#f9cfae" stroke="#8c2cd8" stroke-width="1.5"/>
<rect x="330.00" y="241.20" width="5.40" height="5.40" fill="#484848"/>
<rect x="289.25" y="256.15" width="5.70" height="5.70" fill="#0000f0"/>
<rect x="330.10" y="284.70" width="6.00" height="6.00" fill="#f0000a"/>
<text x="279.00" y="212.75" font-size="9.80" text-anchor="start" fill="#111" font-weight="normal" textLength="34.4" lengthAdjust="spacingAndGlyphs">1377612</text>
<circle cx="399.10" cy="264.60" r="22.30" fill="#fff" stroke="#000" stroke-width="1.30"/>
<path d="M402.38 257.53h1.60M403.18 256.73v1.60M404.07 258.83h1.60M404.87 258.03v1.60M405.37 260.52h1.60M406.17 259.72v1.60M390.14 264.60h1.60M390.94 263.80v1.60M391.23 260.52h1.60M392.03 259.72v1.60M392.53 258.83h1.60M393.33 258.03v1.60M394.22 257.53h1.60M395.02 256.73v1.60M404.33 254.15h1.60M405.13 253.35v1.60M406.83 256.07h1.60M407.63 255.27v1.60M408.75 258.57h1.60M409.55 257.77v1.60M409.96 261.48h1.60M410.76 260.68v1.60M410.37 264.60h1.60M411.17 263.80v1.60M409.96 267.72h1.60M410.76 266.92v1.60M387.85 270.63h1.60M388.65 269.83v1.60M386.64 267.72h1.60M387.44 266.92v1.60M386.23 264.60h1.60M387.03 263.80v1.60M386.64 261.48h1.60M387.44 260.68v1.60M387.85 258.57h1.60M388.65 257.77v1.60M389.77 256.07h1.60M390.57 255.27v1.60M392.27 254.15h1.60M393.07 253.35v1.60M409.45 253.45h1.60M410.25 252.65v1.60M411.96 256.72h1.60M412.76 255.92v1.60M413.53 260.52h1.60M414.33 259.72v1.60M414.07 264.60h1.60M414.87 263.80v1.60M413.53 268.68h1.60M414.33 267.88v1.60M384.64 272.48h1.60M385.44 271.68v1.60M383.07 268.68h1.60M383.87 267.88v1.60M382.53 264.60h1.60M383.33 263.80v1.60M383.07 260.52h1.60M383.87 259.72v1.60M384.64 256.72h1.60M385.44 255.92v1.60M387.15 253.45h1.60M387.95 252.65v1.60M411.88 251.02h1.60M412.68 250.22v1.60M414.93 255.00h1.60M415.73 254.20v1.60M416.84 259.63h1.60M417.64 258.83v1.60M417.50 264.60h1.60M418.30 263.80v1.60M416.84 269.57h1.60M417.64 268.77v1.60M414.93 274.20h1.60M415.73 273.40v1.60M381.67 274.20h1.60M382.47 273.40v1.60M379.76 269.57h1.60M380.56 268.77v1.60M379.10 264.60h1.60M379.90 263.80v1.60M379.76 259.63h1.60M380.56 258.83v1.60M381.67 255.00h1.60M382.47 254.20v1.60M384.72 251.02h1.60M385.52 250.22v1.60" stroke="#e63a40" stroke-width="1.40" stroke-linecap="round" fill="none"/>
<path d="M383.61 248.56L384.31 248.64L385.01 248.76L385.71 248.90L386.41 249.07L387.11 249.27L387.81 249.49L388.51 249.73L389.20 250.00L389.90 250.29L390.59 250.60L391.28 250.93L391.97 251.28L392.66 251.65L393.34 252.04L394.02 252.44L394.70 252.86L395.38 253.30L396.05 253.75L396.71 254.22L397.37 254.71L398.03 255.20L398.68 255.72L399.32 256.24L399.96 256.78L400.59 257.33L401.21 257.89L401.83 258.46L402.43 259.04L403.03 259.63L403.62 260.23L404.20 260.84L404.77 261.46L405.33 262.09L405.88 262.72L406.42 263.37L406.95 264.02L407.46 264.67L407.96 265.33L408.45 266.00L408.93 266.67L409.39 267.35L409.83 268.03L410.26 268.72L410.68 269.41L411.07 270.10L411.46 270.79L411.82 271.49L412.16 272.19L412.49 272.89L412.80 273.59L413.08 274.30L413.35 275.00L413.59 275.71L413.81 276.41L414.00 277.12L414.18 277.82L414.32 278.53L414.44 279.23L414.53 279.94L414.59 280.64" fill="none" stroke="#000" stroke-width="1.82"/>
<path d="M385.07 281.93L385.24 281.33L385.44 280.72L385.65 280.11L385.89 279.49L386.14 278.86L386.40 278.24L386.69 277.60L386.98 276.96L387.30 276.32L387.63 275.68L387.97 275.03L388.32 274.37L388.69 273.72L389.07 273.06L389.46 272.40L389.86 271.74L390.28 271.07L390.70 270.41L391.14 269.74L391.58 269.07L392.04 268.41L392.50 267.74L392.97 267.07L393.45 266.41L393.94 265.75L394.43 265.09L394.93 264.43L395.44 263.77L395.95 263.12L396.47 262.47L397.00 261.83L397.53 261.19L398.06 260.56L398.60 259.93L399.15 259.31L399.69 258.70L400.24 258.09L400.80 257.49L401.35 256.90L401.91 256.32L402.47 255.74L403.03 255.18L403.60 254.63L404.16 254.08L404.72 253.55L405.29 253.03L405.85 252.52L406.42 252.03L406.98 251.54L407.55 251.07L408.11 250.62L408.68 250.18L409.24 249.75L409.80 249.35L410.36 248.95L410.91 248.58L411.47 248.22L412.03 247.88L412.58 247.57L413.13 247.27" fill="none" stroke="#000" stroke-width="1.82"/>
<rect x="397.50" y="254.60" width="5.00" height="5.00" fill="#484848"/>
<rect x="374.40" y="262.80" width="6.00" height="6.00" fill="#0000f0"/>
<rect x="397.20" y="279.00" width="5.60" height="5.60" fill="#f0000a"/>
<text x="384.90" y="234.90" font-size="9.80" text-anchor="start" fill="#111" font-weight="normal" textLength="25.0" lengthAdjust="spacingAndGlyphs">Major</text>
<circle cx="459.40" cy="265.60" r="7.10" fill="#fff" stroke="#000" stroke-width="1.2"/>
<path d="M452.80 266.20A6.65 6.65 0 1 1 466.00 266.20Q459.40 267.20 452.80 266.20Z" fill="#f0101a"/>
<circle cx="459.40" cy="265.60" r="7.10" fill="none" stroke="#000" stroke-width="1.45"/>
<rect x="449.80" y="263.20" width="4.20" height="4.20" fill="#484848"/>
<rect x="456.70" y="267.30" width="5.40" height="5.40" fill="#0000f0"/>
<text x="444.60" y="242.90" font-size="9.80" text-anchor="start" fill="#111" font-weight="normal" textLength="27.1" lengthAdjust="spacingAndGlyphs">Minor</text>
<text x="278.20" y="314.80" font-size="10.40" text-anchor="start" fill="#111" font-weight="normal" textLength="225.8" lengthAdjust="spacingAndGlyphs">2015/12/23/06:22:36.0 39.433N −119.789W 10.0 km</text>
<text x="278.20" y="325.60" font-size="10.40" text-anchor="start" fill="#111" font-weight="normal" textLength="155.3" lengthAdjust="spacingAndGlyphs">NP1: strike=316 Dip=67 Rake=−163</text>
<text x="278.20" y="336.30" font-size="10.40" text-anchor="start" fill="#111" font-weight="normal" textLength="150.4" lengthAdjust="spacingAndGlyphs">NP2: strike=219 Dip=75 Rake=−24</text>
<text x="278.20" y="347.10" font-size="10.40" text-anchor="start" fill="#111" font-weight="normal" textLength="187.8" lengthAdjust="spacingAndGlyphs">DEVIATORIC MT DC=99.2% CLVD=0.8%</text>
<text x="278.20" y="357.90" font-size="10.40" text-anchor="start" fill="#111" font-weight="normal" textLength="160.8" lengthAdjust="spacingAndGlyphs">VarRed=7.3% TOTFIT=4.1 Mw=3.42</text>
<text x="278.40" y="370.60" font-size="7.40" text-anchor="start" fill="#111" font-weight="normal" textLength="236.0" lengthAdjust="spacingAndGlyphs">Mo=1.69E+21 xx=−1.31 xy=0.14 xz=0.69 yy=1.67 yz=−0.21 zz=−0.36</text>
<text x="278.40" y="378.20" font-size="7.40" text-anchor="start" fill="#111" font-weight="normal" textLength="132.3" lengthAdjust="spacingAndGlyphs">T ev=  1.70 az=268 pl= 5 Epsilon=0.00</text>
<text x="278.40" y="385.60" font-size="7.40" text-anchor="start" fill="#111" font-weight="normal" textLength="83.9" lengthAdjust="spacingAndGlyphs">B ev= −0.01 az=  8 pl=61</text>
<text x="278.40" y="393.20" font-size="7.40" text-anchor="start" fill="#111" font-weight="normal" textLength="88.6" lengthAdjust="spacingAndGlyphs">P ev= −1.69 az=176 pl=28</text>
</svg>
</body></html>
